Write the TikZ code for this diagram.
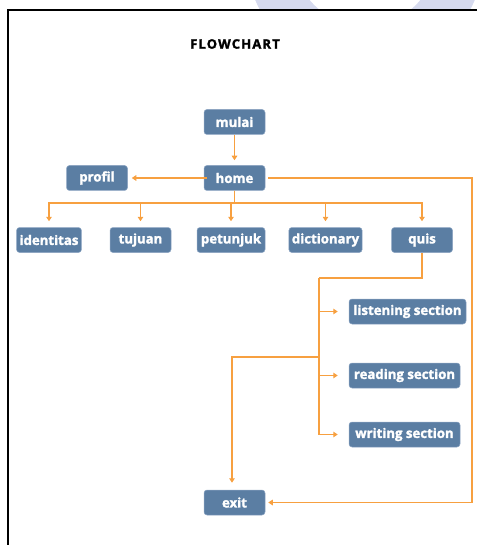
\documentclass[tikz,border=0pt]{standalone}
\usepackage{fontspec}
\setmainfont{Open Sans}[BoldFeatures={FakeBold=1.8}]
\usetikzlibrary{arrows.meta,calc}
\definecolor{boxblue}{RGB}{91,126,163}
\definecolor{boxedge}{RGB}{140,165,195}
\definecolor{flow}{RGB}{247,160,64}
\definecolor{wmark}{RGB}{214,218,238}
\tikzset{
  flowbox/.style={draw=boxedge, line width=0.5pt, fill=boxblue, rounded corners=3pt,
    text=white, font=\fontsize{13.2}{15}\selectfont\bfseries,
    minimum height=25pt, minimum width=61pt, inner xsep=3pt, inner ysep=0pt},
  conn/.style={draw=flow, line width=1.5pt},
  arr/.style={conn, -{Triangle[length=4.5pt,width=5.5pt]}},
}
\begin{document}
\begin{tikzpicture}[x=1pt,y=-1pt]
\useasboundingbox (0,0) rectangle (476,545);
% watermark
\begin{scope}
\clip (0,0) rectangle (476,9);
\fill[wmark, even odd rule] (365,-46) circle (119) (365,-46) circle (72);
\end{scope}
% frame
\draw[black, line width=2.2pt] (8,545) -- (8,10) -- (477,10);
% title
\node[font=\fontsize{13}{15}\selectfont\bfseries\addfontfeature{LetterSpace=9}] (title) at (235,44) {FLOWCHART};
% nodes
\node[flowbox] (mulai) at (234.5,122) {mulai};
\node[flowbox] (home) at (234.5,178) {home};
\node[flowbox] (profil) at (97,178) {profil};
\node[flowbox, minimum width=64pt] (identitas) at (49,240) {identitas};
\node[flowbox] (tujuan) at (140.5,240) {tujuan};
\node[flowbox, minimum width=68pt] (petunjuk) at (231,240) {petunjuk};
\node[flowbox, minimum width=73pt] (dictionary) at (325.5,240) {dictionary};
\node[flowbox] (quis) at (422,240) {quis};
\node[flowbox, minimum width=117pt] (listening) at (407.5,311.5) {listening section};
\node[flowbox, minimum width=111pt] (reading) at (404.5,375.5) {reading section};
\node[flowbox, minimum width=111pt] (writing) at (404.5,434.5) {writing section};
\node[flowbox] (exit) at (234.5,502.5) {exit};
% helper coordinates
\coordinate (bus) at (0,203);
\coordinate (rside) at (472,0);
\coordinate (qturn) at (319,278);
\coordinate (xturn) at (319,357);
\coordinate (xleft) at (232,357);
% connectors
\draw[arr, shorten >=5pt] (mulai) -- (home);
\draw[arr, shorten >=4pt, shorten <=-3pt] (home.west) -- (profil.east);
\foreach \c in {identitas,tujuan,petunjuk,dictionary,quis}
  \draw[arr, shorten >=6pt] (home.south) -- (home.south |- bus) -| (\c.north);
\draw[arr, shorten >=3pt, shorten <=3pt] (home.east) -- (home.east -| rside) |- (exit.east);
\draw[conn] (quis.south) |- (qturn);
\foreach \c in {listening,reading,writing}
  \draw[arr, shorten >=11pt] (qturn) |- (\c.west);
\draw[arr, shorten >=7pt] (xturn) -- (xleft) -- (xleft |- exit.north);
\end{tikzpicture}
\end{document}
